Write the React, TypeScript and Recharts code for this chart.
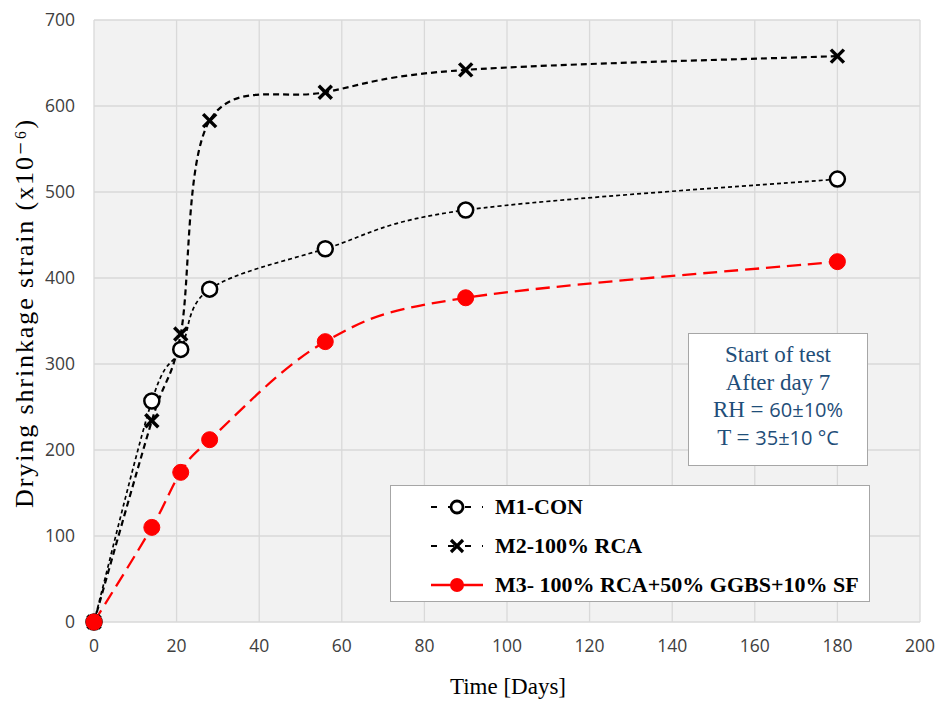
import { LineChart, Line, XAxis, YAxis, CartesianGrid } from 'recharts';

const days = [0, 14, 21, 28, 56, 90, 180];
const m1Con = [0, 257, 317, 387, 434, 479, 515];
const m2Rca = [0, 234, 335, 583, 616, 642, 658];
const m3Ggbs = [0, 110, 174, 212, 326, 377, 419];
const xTicks = [0, 20, 40, 60, 80, 100, 120, 140, 160, 180, 200];
const yTicks = [0, 100, 200, 300, 400, 500, 600, 700];

const data = days.map((d, i) => ({ day: d, m1: m1Con[i], m2: m2Rca[i], m3: m3Ggbs[i] }));

// Excel-like smoothed line (Catmull-Rom through the points)
const excelSmooth = (context: any) => {
  let pts: number[][] = [];
  return {
    areaStart() {},
    areaEnd() {},
    lineStart() {
      pts = [];
    },
    point(x: number, y: number) {
      pts.push([+x, +y]);
    },
    lineEnd() {
      const n = pts.length;
      if (!n) return;
      context.moveTo(pts[0][0], pts[0][1]);
      for (let i = 0; i < n - 1; i++) {
        const p0 = pts[Math.max(i - 1, 0)];
        const p1 = pts[i];
        const p2 = pts[i + 1];
        const p3 = pts[Math.min(i + 2, n - 1)];
        context.bezierCurveTo(
          p1[0] + (p2[0] - p0[0]) / 6,
          p1[1] + (p2[1] - p0[1]) / 6,
          p2[0] - (p3[0] - p1[0]) / 6,
          p2[1] - (p3[1] - p1[1]) / 6,
          p2[0],
          p2[1]
        );
      }
    },
  };
};

const CircleDot = (props: any) => (
  <circle key={props.index} cx={props.cx} cy={props.cy} r={7.5} fill="#fff" stroke="#000" strokeWidth={2.5} />
);

const CrossDot = (props: any) => {
  const { cx, cy, index } = props;
  const s = 6.5;
  return (
    <g key={index} stroke="#000" strokeWidth={3.5}>
      <line x1={cx - s} y1={cy - s} x2={cx + s} y2={cy + s} />
      <line x1={cx - s} y1={cy + s} x2={cx + s} y2={cy - s} />
    </g>
  );
};

const RedDot = (props: any) => (
  <circle key={props.index} cx={props.cx} cy={props.cy} r={8} fill="#ff0000" stroke="#ff0000" strokeWidth={1} />
);

const serif = '"Liberation Serif", "DejaVu Serif", serif';
const sans = '"Open Sans", sans-serif';
const tickStyle = { fill: '#404040', fontSize: 17.5, fontFamily: sans };

function LegendRow({ kind, label }: { kind: string; label: string }) {
  return (
    <div style={{ display: 'flex', alignItems: 'center', height: 39 }}>
      <svg width={58} height={20} style={{ marginLeft: 38, marginRight: 8 }}>
        {kind === 'red' ? (
          <>
            <line x1={2} y1={10} x2={54} y2={10} stroke="#ff0000" strokeWidth={2.5} />
            <circle cx={28} cy={10} r={7} fill="#ff0000" />
          </>
        ) : (
          <>
            <line x1={2} y1={10} x2={54} y2={10} stroke="#000" strokeWidth={2} strokeDasharray="6 11" />
            {kind === 'circle' ? (
              <circle cx={28} cy={10} r={6} fill="#fff" stroke="#000" strokeWidth={2.8} />
            ) : (
              <g stroke="#000" strokeWidth={3.2}>
                <line x1={22} y1={4} x2={34} y2={16} />
                <line x1={22} y1={16} x2={34} y2={4} />
              </g>
            )}
          </>
        )}
      </svg>
      <span style={{ fontFamily: serif, fontWeight: 'bold', fontSize: 22, color: '#000', whiteSpace: 'nowrap' }}>
        {label}
      </span>
    </div>
  );
}

export default function App() {
  return (
    <div style={{ position: 'absolute', left: 0, top: 0, width: 939, height: 702, background: '#fff', overflow: 'hidden' }}>
      <LineChart width={939} height={702} data={data} margin={{ top: 20, right: 19, bottom: 40, left: 34 }}>
        <CartesianGrid fill="#f2f2f2" stroke="#d9d9d9" strokeWidth={1.3} />
        <XAxis
          dataKey="day"
          type="number"
          domain={[0, 200]}
          ticks={xTicks}
          axisLine={false}
          tickLine={false}
          tickSize={0}
          tickMargin={18}
          height={40}
          tick={tickStyle}
        />
        <YAxis
          type="number"
          domain={[0, 700]}
          ticks={yTicks}
          axisLine={false}
          tickLine={false}
          tickSize={0}
          tickMargin={19}
          width={60}
          tick={tickStyle}
        />
        <Line
          dataKey="m1"
          type={excelSmooth as any}
          stroke="#000"
          strokeWidth={1.7}
          strokeDasharray="4 3"
          dot={CircleDot}
          isAnimationActive={false}
        />
        <Line
          dataKey="m2"
          type={excelSmooth as any}
          stroke="#000"
          strokeWidth={2.2}
          strokeDasharray="6 4"
          dot={CrossDot}
          isAnimationActive={false}
        />
        <Line
          dataKey="m3"
          type={excelSmooth as any}
          stroke="#ff0000"
          strokeWidth={2.3}
          strokeDasharray="14 7"
          dot={RedDot}
          isAnimationActive={false}
        />
      </LineChart>

      <div
        style={{
          position: 'absolute',
          left: 24,
          top: 313,
          transform: 'translate(-50%, -50%) rotate(-90deg)',
          whiteSpace: 'nowrap',
          fontFamily: serif,
          fontSize: 26,
          letterSpacing: 1.9,
          color: '#000',
        }}
      >
        Drying shrinkage strain (x10⁻⁶)
      </div>
      <div
        style={{
          position: 'absolute',
          left: 508,
          top: 687,
          transform: 'translate(-50%, -50%)',
          whiteSpace: 'nowrap',
          fontFamily: serif,
          fontSize: 23,
          color: '#000',
        }}
      >
        Time [Days]
      </div>

      <div
        style={{
          position: 'absolute',
          left: 688,
          top: 333,
          width: 180,
          height: 133,
          boxSizing: 'border-box',
          border: '1.5px solid #a6a6a6',
          background: '#fff',
          fontFamily: serif,
          fontSize: 23,
          color: '#1f4e79',
          textAlign: 'center',
          paddingTop: 7,
          lineHeight: '27.7px',
          whiteSpace: 'nowrap',
        }}
      >
        <div>Start of test</div>
        <div>After day 7</div>
        <div>
          RH = <span style={{ fontFamily: sans, fontSize: 20 }}>60±10%</span>
        </div>
        <div>
          T = <span style={{ fontFamily: sans, fontSize: 20 }}>35±10 °C</span>
        </div>
      </div>

      <div
        style={{
          position: 'absolute',
          left: 390,
          top: 485,
          width: 480,
          height: 117,
          boxSizing: 'border-box',
          border: '1.5px solid #a6a6a6',
          background: '#fff',
          paddingTop: 1,
        }}
      >
        <LegendRow kind="circle" label="M1-CON" />
        <LegendRow kind="cross" label="M2-100% RCA" />
        <LegendRow kind="red" label="M3- 100% RCA+50% GGBS+10% SF" />
      </div>
    </div>
  );
}
